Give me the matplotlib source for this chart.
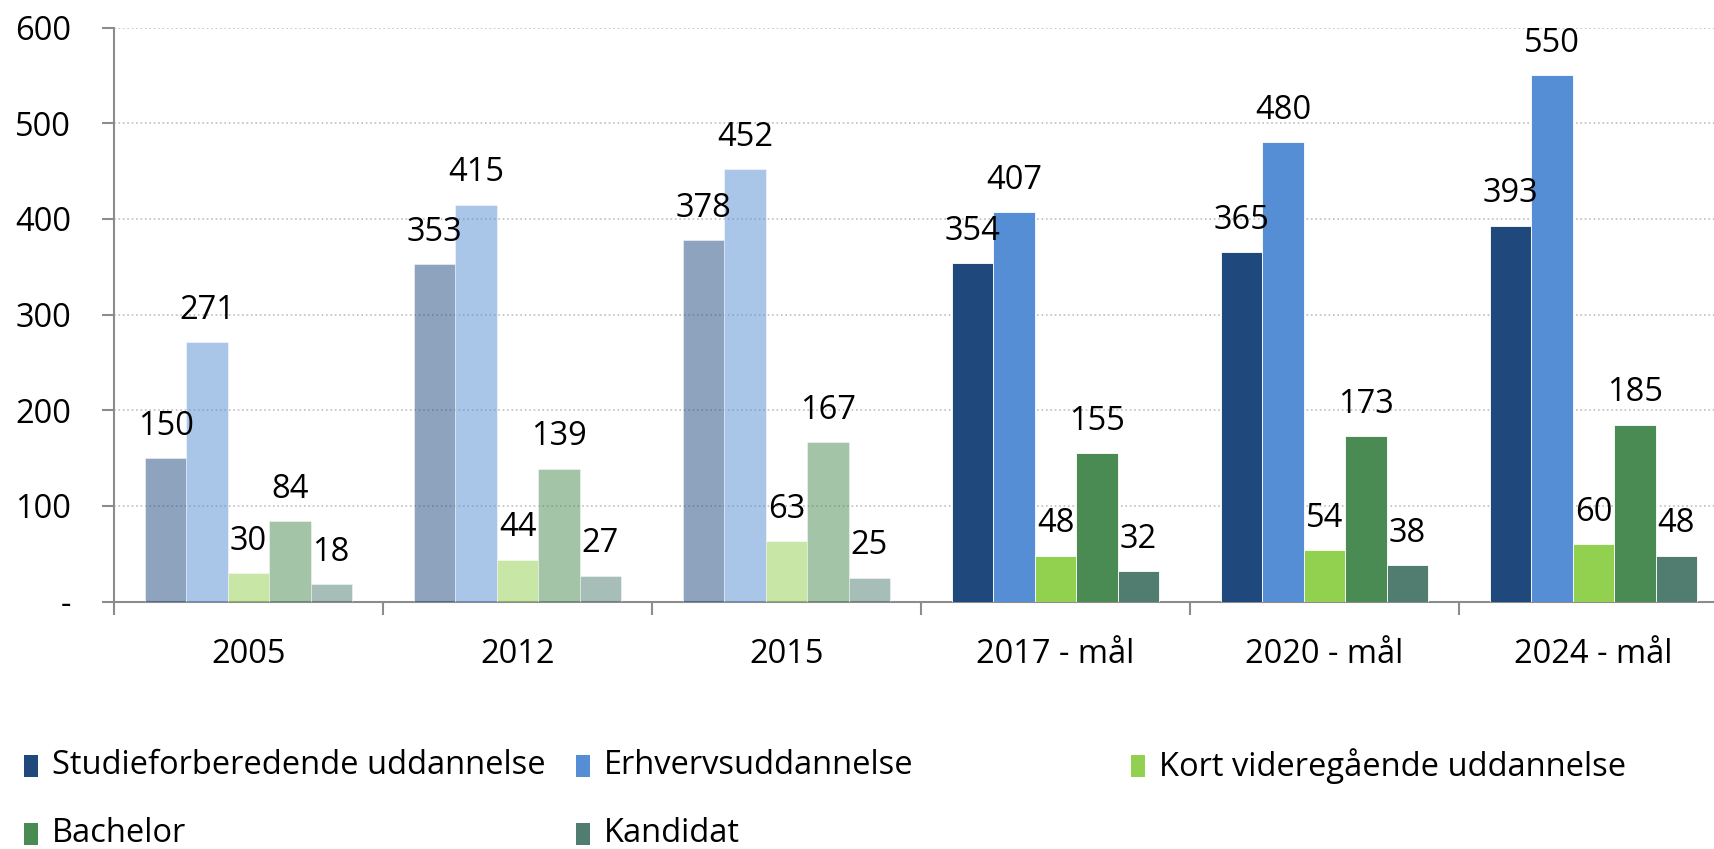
import matplotlib.pyplot as plt
from matplotlib.patches import Rectangle
from matplotlib.ticker import FixedLocator
import numpy as np

plt.rcParams['font.family'] = ['Open Sans', 'DejaVu Sans']

# --- data ---
categories = ['2005', '2012', '2015', '2017 - mål', '2020 - mål', '2024 - mål']
series_names = ['Studieforberedende uddannelse', 'Erhvervsuddannelse',
                'Kort videregående uddannelse', 'Bachelor', 'Kandidat']
studieforb = [150, 353, 378, 354, 365, 393]
erhverv = [271, 415, 452, 407, 480, 550]
kvu = [30, 44, 63, 48, 54, 60]
bachelor = [84, 139, 167, 155, 173, 185]
kandidat = [18, 27, 25, 32, 38, 48]
historic = [True, True, True, False, False, False]

COLORS = ['#1F497D', '#558ED5', '#92D050', '#4A8B53', '#517C70']
TEXT = '#000000'
AXIS = '#8C8C8C'
FS = 23.5

fig = plt.figure(figsize=(17.15, 8.49), dpi=100)
fig.patch.set_facecolor('white')
ax = fig.add_axes([114 / 1715, 1 - 601.6 / 849, 1614 / 1715, 574 / 849])

x = np.arange(len(categories))
width = 0.1537
all_series = [studieforb, erhverv, kvu, bachelor, kandidat]

for i, (vals, col) in enumerate(zip(all_series, COLORS)):
    offs = x + (i - 2) * width
    alphas = [0.5 if h else 1.0 for h in historic]
    for xi, v, a in zip(offs, vals, alphas):
        ax.bar(xi, v, width, color=col, alpha=a, edgecolor='white', linewidth=0.6, zorder=3)
        ax.text(xi, v + 16, f"{v}", ha='center', va='bottom', fontsize=FS, color=TEXT, zorder=4)

ax.set_xlim(-0.5, len(categories) - 0.5)
ax.set_ylim(0, 600)
ax.set_yticks(range(0, 601, 100))
ax.set_yticklabels(['-'] + [str(v) for v in range(100, 601, 100)])
ax.set_xticks(x)
ax.set_xticklabels(categories)
ax.xaxis.set_minor_locator(FixedLocator(np.arange(-0.5, len(categories), 1.0)))

ax.tick_params(axis='x', which='major', length=0, pad=26, labelsize=FS, colors=TEXT)
ax.tick_params(axis='x', which='minor', length=9, width=1.5, color=AXIS, direction='out')
ax.tick_params(axis='y', length=9, width=1.5, color=AXIS, direction='out', pad=22,
               labelsize=FS, labelcolor=TEXT)

ax.grid(axis='y', color='#BFBFBF', linestyle=':', linewidth=1.2, zorder=0)
for side in ['top', 'right']:
    ax.spines[side].set_visible(False)
for side in ['left', 'bottom']:
    ax.spines[side].set_color(AXIS)
    ax.spines[side].set_linewidth(1.5)

# legend laid out like the Excel one: 3 fixed columns, 2 rows
leg_x = [24, 576, 1131, 24, 576]
leg_y = [766, 766, 766, 834, 834]
for name, col, lx, ly in zip(series_names, COLORS, leg_x, leg_y):
    fig.patches.append(Rectangle((lx / 1715, 1 - (ly + 11) / 849), 14 / 1715, 22 / 849,
                                 transform=fig.transFigure, facecolor=col, edgecolor='none'))
    fig.text((lx + 28) / 1715, 1 - ly / 849, name, fontsize=FS, color=TEXT,
             ha='left', va='center')

plt.savefig('out.png', dpi=100, facecolor='white')
plt.close()
